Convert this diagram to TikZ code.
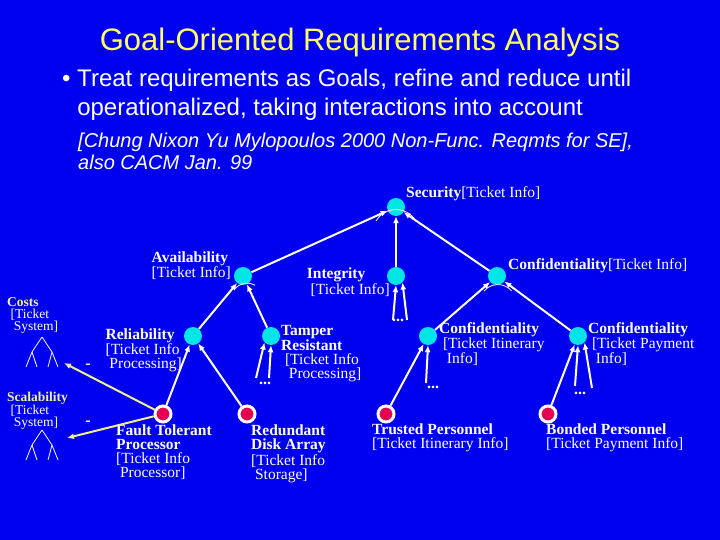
\documentclass[tikz,border=0pt]{standalone}
\usepackage{fontspec}
\setmainfont{Liberation Serif}
\newfontfamily\slidefont{Liberation Sans}
\usetikzlibrary{arrows.meta}
\definecolor{bg}{RGB}{0,0,240}
\definecolor{ttl}{RGB}{255,255,100}
\definecolor{cy}{RGB}{0,230,230}
\definecolor{rd}{RGB}{230,0,80}
\definecolor{yl}{RGB}{240,240,140}
\begin{document}
\begin{tikzpicture}[x=1pt,y=-1pt,
  soft/.style={circle,fill=cy,minimum size=18pt,inner sep=0pt},
  op/.style={circle,fill=rd,draw=white,line width=3pt,minimum size=16pt,inner sep=0pt},
  lnk/.style={white,line width=2pt,-{Latex[length=7pt,width=6pt]}},
  neg/.style={yl,line width=2pt,-{Latex[length=7pt,width=6pt]}},
  lbl/.style={white,font=\fontsize{15.5}{14}\selectfont,align=left,inner sep=0pt},
  thin/.style={white,line width=0.8pt}]
\fill[bg] (0,0) rectangle (720,540);
\useasboundingbox (0,0) rectangle (720,540);
\node[ttl,font=\slidefont\fontsize{31}{34}\selectfont] (title) at (360,42) {Goal-Oriented Requirements Analysis};
\node[white,font=\slidefont\fontsize{24}{29}\selectfont,anchor=north west,align=left,inner sep=0pt] (b1) at (62,69) {\textbullet\ Treat requirements as Goals, refine and reduce until\\\phantom{\textbullet\ }operationalized, taking interactions into account};
\node[white,font=\slidefont\itshape\fontsize{20}{22}\selectfont,anchor=north west,align=left,inner sep=0pt] (b2) at (78,133) {[Chung Nixon Yu Mylopoulos 2000 Non-Func. Reqmts for SE],\\also CACM Jan. 99};
% goals
\node[soft] (sec) at (396,207) {};
\node[soft] (av) at (243,276) {};
\node[soft] (int) at (396,276) {};
\node[soft] (conf) at (497,276) {};
\node[soft] (rel) at (193,336) {};
\node[soft] (tam) at (271,336) {};
\node[soft] (ci) at (428,336) {};
\node[soft] (cp) at (578,336) {};
\node[op] (ftp) at (163,414) {};
\node[op] (rda) at (247,414) {};
\node[op] (tp) at (386,414) {};
\node[op] (bp) at (548,414) {};
% labels
\node[lbl,anchor=south west] (lsec) at (406,201) {\textbf{Security}[Ticket Info]};
\node[lbl,anchor=east] (lav) at (231,266) {\textbf{Availability}\\{}[Ticket Info]};
\node[lbl,anchor=east] (lint) at (390,282) {\textbf{Integrity}\\{}\ [Ticket Info]};
\node[lbl,anchor=west] (lconf) at (508,266) {\textbf{Confidentiality}[Ticket Info]};
\node[lbl,anchor=east] (lrel) at (182,350) {\textbf{Reliability}\\{}[Ticket Info\\\ Processing]};
\node[lbl,anchor=west] (ltam) at (281,354) {\textbf{Tamper}\\\textbf{Resistant}\\\ [Ticket Info\\\ \ Processing]};
\node[lbl,anchor=west] (lci) at (439,344) {\textbf{Confidentiality}\\\ [Ticket Itinerary\\\ \ Info]};
\node[lbl,anchor=west] (lcp) at (588,344) {\textbf{Confidentiality}\\\ [Ticket Payment\\\ \ Info]};
\node[lbl,anchor=north west] (lftp) at (116,425) {\textbf{Fault Tolerant}\\\textbf{Processor}\\{}[Ticket Info\\\ Processor]};
\node[lbl,anchor=north west] (lrda) at (251,425) {\textbf{Redundant}\\\textbf{Disk Array}\\{}[Ticket Info\\\ Storage]};
\node[lbl,anchor=north west] (ltp) at (372,424) {\textbf{Trusted Personnel}\\{}[Ticket Itinerary Info]};
\node[lbl,anchor=north west] (lbp) at (546,424) {\textbf{Bonded Personnel}\\{}[Ticket Payment Info]};
\node[lbl,anchor=north west,font=\fontsize{13.5}{12}\selectfont] (lcost) at (7,297) {{\color{yl}\textbf{Costs}}\\\ [Ticket\\\ \ System]};
\node[lbl,anchor=north west,font=\fontsize{13.5}{12}\selectfont] (lscal) at (7,392) {{\color{yl}\textbf{Scalability}}\\\ [Ticket\\\ \ System]};
% refinement links
\draw[lnk] (av) -- (sec);
\draw[lnk] (int) -- (sec);
\draw[lnk] (conf) -- (sec);
\draw[lnk] (rel) -- (av);
\draw[lnk] (tam) -- (av);
\draw[lnk] (ftp) -- (rel);
\draw[lnk] (rda) -- (rel);
\draw[lnk] (ci) -- (conf);
\draw[lnk] (cp) -- (conf);
\draw[lnk] (tp) -- (ci);
\draw[lnk] (bp) -- (cp);
% dangling
\coordinate (i1) at (393,320); \coordinate (i2) at (407,320);
\coordinate (t1) at (256,378); \coordinate (t2) at (269,378);
\coordinate (c1) at (426,383);
\coordinate (p1) at (575,386); \coordinate (p2) at (592,388);
\draw[lnk] (i1) -- (int.south); \draw[lnk] (i2) -- (int.south east);
\draw[lnk] (t1) -- (tam.south west); \draw[lnk] (t2) -- (tam.south);
\draw[lnk] (c1) -- (ci.south);
\draw[lnk] (p1) -- (cp.south); \draw[lnk] (p2) -- (cp.south east);
\node[white,font=\bfseries\fontsize{16}{16}\selectfont] (d1) at (398,320) {...};
\node[white,font=\bfseries\fontsize{16}{16}\selectfont] (d2) at (265,383) {...};
\node[white,font=\bfseries\fontsize{16}{16}\selectfont] (d3) at (433,387) {...};
\node[white,font=\bfseries\fontsize{16}{16}\selectfont] (d4) at (580,393) {...};
% AND arcs
\draw[thin] (376,221) arc[start angle=210,end angle=330,radius=23];
\draw[thin] (234,290) arc[start angle=215,end angle=300,radius=16];
\draw[thin] (484,291) arc[start angle=220,end angle=320,radius=18];
% trees
\foreach \ty/\nm in {337/ta,430/tb}{
  \coordinate (\nm) at (42,\ty);
  \draw[thin] (42,\ty) -- (32,\ty+15) (42,\ty) -- (52,\ty+15)
    (32,\ty+15) -- (26,\ty+30) (32,\ty+15) -- (37,\ty+30)
    (52,\ty+15) -- (48,\ty+30) (52,\ty+15) -- (58,\ty+30);
}
\coordinate (cost) at (64,363);
\coordinate (scal) at (67,438);
\draw[neg] (ftp) -- (cost);
\draw[neg] (ftp) -- (scal);
\node[white,font=\bfseries\fontsize{16}{16}\selectfont] (m1) at (88,366) {-};
\node[white,font=\bfseries\fontsize{16}{16}\selectfont] (m2) at (88,423) {-};
\end{tikzpicture}
\end{document}
